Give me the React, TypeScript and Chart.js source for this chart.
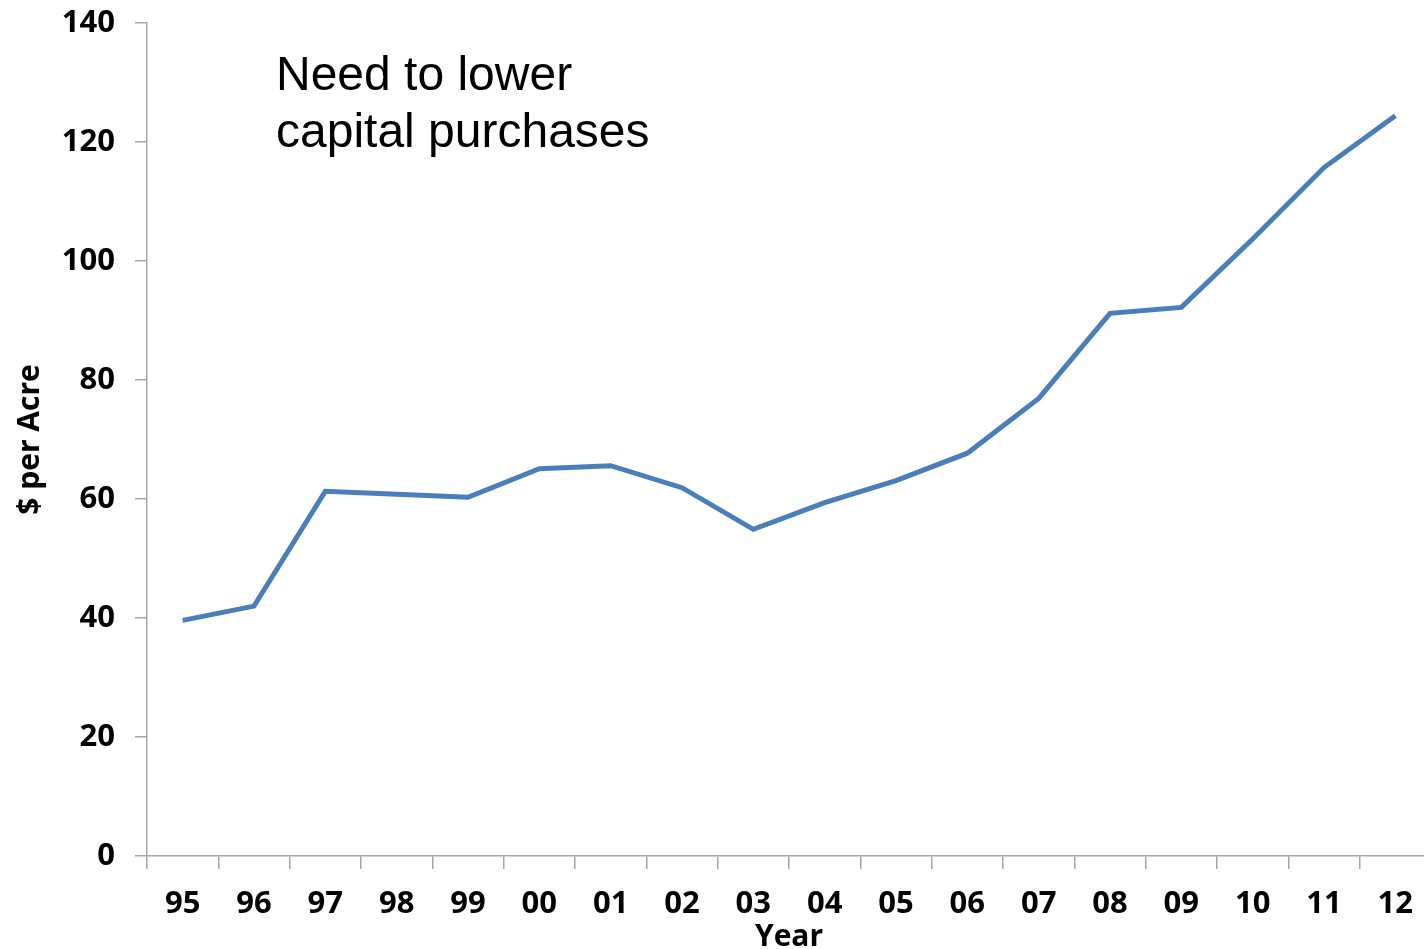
import React, { useEffect, useRef } from "react";
import { Chart, registerables } from "chart.js";

Chart.register(...registerables);

const years = ["95", "96", "97", "98", "99", "00", "01", "02", "03", "04", "05", "06", "07", "08", "09", "10", "11", "12"];
const costPerAcre = [39.6, 42.0, 61.3, 60.8, 60.3, 65.1, 65.6, 61.9, 54.9, 59.4, 63.1, 67.7, 76.9, 91.2, 92.2, 103.7, 115.7, 124.4];
const noteLines = ["Need to lower", "capital purchases"];

const noteFont = '48px "Liberation Sans", Arial, sans-serif';
const tickFont = { family: '"Open Sans", sans-serif', size: 31, weight: "bold" as const, lineHeight: 1 };
const titleFont = { family: '"Open Sans", sans-serif', size: 30, weight: "bold" as const, lineHeight: 1 };

const notePlugin = {
  id: "notePlugin",
  afterDraw(chart: Chart) {
    const ctx = chart.ctx;
    ctx.save();
    ctx.font = noteFont;
    ctx.fillStyle = "#000000";
    ctx.textBaseline = "alphabetic";
    ctx.textAlign = "left";
    ctx.fillText(noteLines[0], 276, 90);
    ctx.fillText(noteLines[1], 276, 147);
    ctx.restore();
  },
};

export default function App() {
  const ref = useRef<HTMLCanvasElement | null>(null);

  useEffect(() => {
    if (!ref.current) return;
    const chart = new Chart(ref.current, {
      type: "line",
      data: {
        labels: years,
        datasets: [
          {
            data: costPerAcre,
            borderColor: "#4A7EBB",
            borderWidth: 5,
            pointRadius: 0,
            tension: 0,
            fill: false,
            borderJoinStyle: "miter",
          },
        ],
      },
      options: {
        animation: false,
        responsive: false,
        devicePixelRatio: 1,
        layout: { padding: { top: 23, right: 0, bottom: 0, left: 0 } },
        plugins: { legend: { display: false }, tooltip: { enabled: false } },
        scales: {
          x: {
            type: "category",
            offset: true,
            grid: {
              offset: true,
              drawOnChartArea: false,
              drawTicks: true,
              tickLength: 13,
              color: "#A6A6A6",
              lineWidth: 1.5,
            },
            border: { color: "#A6A6A6", width: 1.5 },
            ticks: { color: "#000000", font: tickFont, padding: 20, maxRotation: 0, autoSkip: false },
            title: { display: true, text: "Year", color: "#000000", font: titleFont, padding: { top: 0, bottom: -3 } },
            afterFit(scale: any) {
              scale.height = 93;
              scale.paddingLeft = 0;
              scale.paddingRight = 0;
            },
          },
          y: {
            min: 0,
            max: 140,
            ticks: { stepSize: 20, color: "#000000", font: tickFont, padding: 20 },
            grid: {
              drawOnChartArea: false,
              drawTicks: true,
              tickLength: 12,
              color: "#A6A6A6",
              lineWidth: 1.5,
            },
            border: { color: "#A6A6A6", width: 1.5 },
            title: { display: true, text: "$ per Acre", color: "#000000", font: titleFont, padding: { top: 15, bottom: 0 } },
            afterFit(scale: any) {
              scale.width = 147;
              scale.paddingTop = 0;
              scale.paddingBottom = 0;
            },
          },
        },
      },
      plugins: [notePlugin],
    });
    return () => chart.destroy();
  }, []);

  return (
    <div style={{ position: "fixed", left: 0, top: 0, width: 1424, height: 949, overflow: "hidden", background: "#ffffff" }}>
      <canvas ref={ref} width={1431} height={949} style={{ width: 1431, height: 949, display: "block" }} />
    </div>
  );
}
